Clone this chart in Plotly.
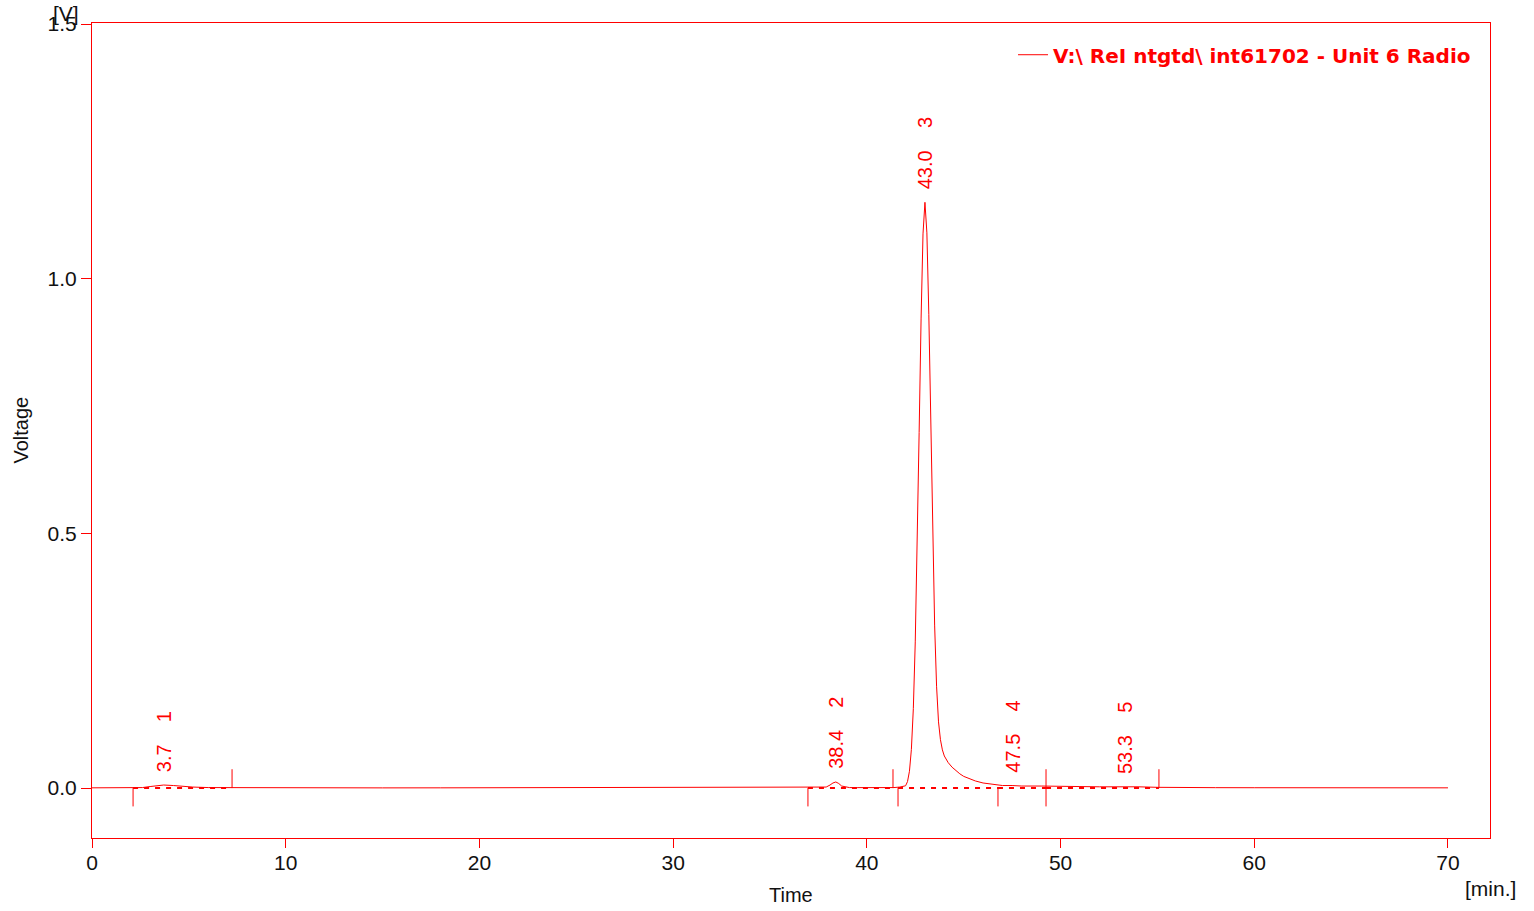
import plotly.graph_objects as go

# ---------------- data ----------------
time_min = [0, 1, 2, 2.6, 3.0, 3.4, 3.7, 4.2, 4.7, 5.2, 6, 7, 8, 10, 12, 15, 18, 20, 22, 24.3, 26, 28, 30,
            32, 34, 36, 37, 37.6, 37.9, 38.1, 38.25, 38.4, 38.55, 38.7, 38.9, 39.1, 39.5, 40, 40.5, 41,
            41.4, 41.7, 41.9, 42.0, 42.1, 42.2, 42.3, 42.4, 42.5, 42.6, 42.7, 42.8, 42.9, 43.0, 43.1,
            43.2, 43.3, 43.4, 43.5, 43.6, 43.7, 43.8, 43.9, 44.0, 44.2, 44.4, 44.6, 44.8, 45.0, 45.3,
            45.6, 46.0, 46.5, 47.0, 47.5, 48, 49, 50, 51, 52, 53, 53.3, 53.6, 54, 55, 56, 58, 60, 62,
            64, 66, 68, 70]
voltage = [0.0005, 0.0005, 0.0006, 0.001, 0.003, 0.005, 0.006, 0.005, 0.003, 0.002, 0.001, 0.0008,
           0.0006, 0.0006, 0.0005, 0.0004, 0.0005, 0.0006, 0.0008, 0.0015, 0.0008, 0.0006, 0.0005,
           0.0006, 0.0007, 0.0008, 0.0009, 0.001, 0.002, 0.006, 0.010, 0.012, 0.009, 0.004, 0.002,
           0.001, 0.0009, 0.0008, 0.0008, 0.0009,
           0.001, 0.002, 0.003, 0.0045, 0.0128, 0.033, 0.076, 0.156, 0.287, 0.473, 0.698, 0.921,
           1.088, 1.150, 1.090,
           0.930, 0.720, 0.500, 0.320, 0.200, 0.130, 0.095, 0.075, 0.063, 0.050, 0.041, 0.034, 0.028,
           0.023, 0.018,
           0.014, 0.010, 0.007, 0.005, 0.005, 0.004, 0.004, 0.003, 0.003, 0.0025, 0.003, 0.003, 0.0028,
           0.0025, 0.0015, 0.001, 0.0008, 0.0007, 0.0006,
           0.0006, 0.0005, 0.0005, 0.0005]

peak_numbers = [1, 2, 3, 4, 5]
peak_times = [3.7, 38.4, 43.0, 47.5, 53.3]
peak_labels = ["3.7", "38.4", "43.0", "47.5", "53.3"]
peak_heights = [0.006, 0.012, 1.150, 0.005, 0.003]

# integration baselines (start, end)
base_start = [2.12, 36.96, 41.61, 46.77, 49.25]
base_end = [7.23, 41.35, 46.77, 49.25, 55.08]
# event tick marks
marks_down = [2.12, 36.96, 41.61, 46.77, 49.25]
marks_up = [7.23, 41.35, 49.25, 55.08]

x_ticks = [0, 10, 20, 30, 40, 50, 60, 70]
y_ticks = [0.0, 0.5, 1.0, 1.5]
y_tick_text = ["0.0", "0.5", "1.0", "1.5"]

series_name = "V:\\ ReI ntgtd\\ int61702 - Unit 6 Radio"

RED = "#ff0000"
INK = "#111111"
FONT = "Liberation Sans, Arial, sans-serif"
LEGEND_FONT = "DejaVu Sans, Verdana, sans-serif"

fig = go.Figure()

fig.add_trace(go.Scatter(
    x=time_min, y=voltage, mode="lines", name=series_name,
    line=dict(color=RED, width=1), showlegend=True,
))

# dashed baselines
bx, by = [], []
for s, e in zip(base_start, base_end):
    bx += [s, e, None]
    by += [0.0, 0.0, None]
fig.add_trace(go.Scatter(x=bx, y=by, mode="lines", showlegend=False, hoverinfo="skip",
                         line=dict(color=RED, width=2, dash="5px,6px")))

# event marks
mx, my = [], []
for t in marks_down:
    mx += [t, t, None]
    my += [0.0, -0.036, None]
for t in marks_up:
    mx += [t, t, None]
    my += [0.0, 0.037, None]
fig.add_trace(go.Scatter(x=mx, y=my, mode="lines", showlegend=False, hoverinfo="skip",
                         line=dict(color=RED, width=1)))

annotations = []
gap = "\u00a0" * 4
for num, t, lab, h in zip(peak_numbers, peak_times, peak_labels, peak_heights):
    annotations.append(dict(
        x=t, y=h, xref="x", yref="y", text=f"{lab}{gap}{num}", showarrow=False,
        textangle=-90, xanchor="center", yanchor="bottom", yshift=11,
        font=dict(family=FONT, size=20, color=RED),
    ))

# axis titles and units
annotations.append(dict(x=0.5, y=0, xref="paper", yref="paper", text="Time", showarrow=False,
                        xanchor="center", yanchor="middle", yshift=-57,
                        font=dict(family=FONT, size=20, color=INK)))
annotations.append(dict(x=0, y=0.5, xref="paper", yref="paper", text="Voltage", showarrow=False,
                        textangle=-90, xanchor="center", yanchor="middle", xshift=-72,
                        font=dict(family=FONT, size=20, color=INK)))
annotations.append(dict(x=1.02, y=0, xref="paper", yref="paper", text="[min.]", showarrow=False,
                        xanchor="right", yanchor="middle", yshift=-50,
                        font=dict(family=FONT, size=21, color=INK)))
annotations.append(dict(x=0, y=1, xref="paper", yref="paper", text="[V]", showarrow=False,
                        xanchor="right", yanchor="middle", xshift=-11, yshift=10,
                        font=dict(family=FONT, size=21, color=INK)))

fig.update_layout(
    width=1534, height=911,
    margin=dict(l=92, r=44, t=23, b=73, autoexpand=False),
    paper_bgcolor="white", plot_bgcolor="white",
    showlegend=True,
    legend=dict(x=0.99, y=0.985, xanchor="right", yanchor="top", bgcolor="rgba(0,0,0,0)",
                itemwidth=30, font=dict(family=LEGEND_FONT, size=20, color=RED, weight="bold")),
    annotations=annotations,
    xaxis=dict(
        range=[0, 72.17], tickvals=x_ticks, ticktext=[str(v) for v in x_ticks],
        showgrid=False, zeroline=False, showline=True, linecolor=RED, linewidth=1, mirror=True,
        ticks="outside", ticklen=9, tickcolor=RED, tickwidth=1, automargin=False,
        ticklabelstandoff=-3,
        tickfont=dict(family=FONT, size=21, color=INK),
    ),
    yaxis=dict(
        range=[-0.098, 1.502], tickvals=y_ticks, ticktext=y_tick_text,
        showgrid=False, zeroline=False, showline=True, linecolor=RED, linewidth=1, mirror=True,
        ticks="outside", ticklen=10, tickcolor=RED, tickwidth=1, automargin=False,
        tickfont=dict(family=FONT, size=21, color=INK),
    ),
)

fig.write_html("out.html")
